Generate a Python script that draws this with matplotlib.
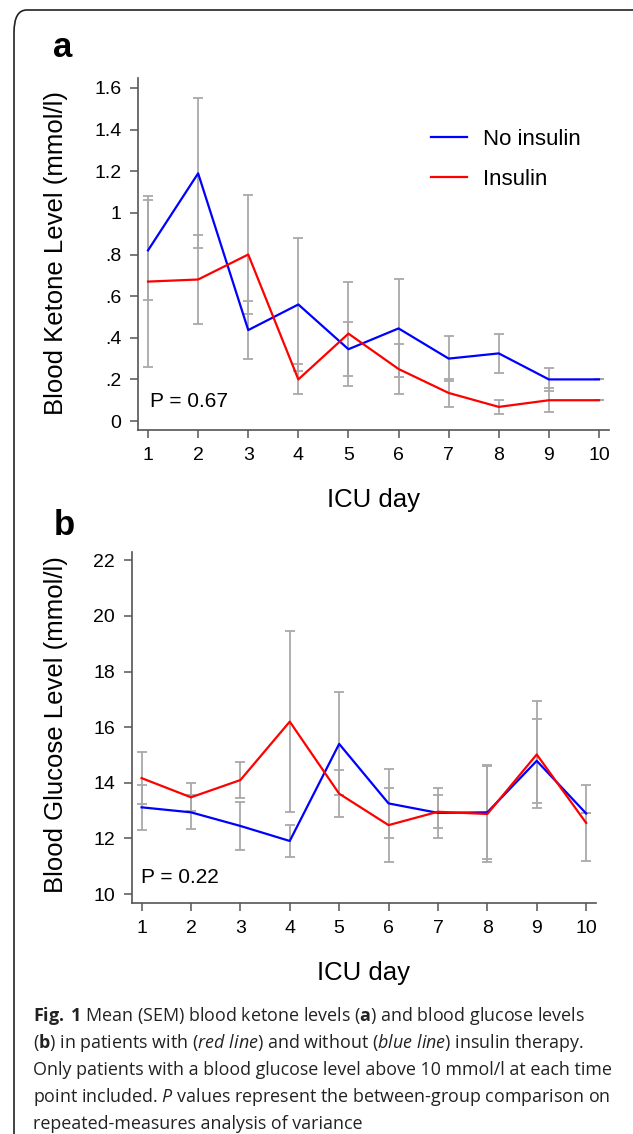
"""
Mean (SEM) blood ketone and glucose levels by ICU day, two panels.
"""
import matplotlib
matplotlib.use("Agg")
import matplotlib.pyplot as plt
from matplotlib.patches import FancyBboxPatch

days = list(range(1, 11))

ketone_no_insulin = [0.82, 1.19, 0.437, 0.56, 0.345, 0.445, 0.30, 0.325, 0.20, 0.20]
ketone_no_insulin_sem = [0.24, 0.36, 0.14, 0.32, 0.13, 0.235, 0.108, 0.094, 0.055, 0.0]
ketone_insulin = [0.67, 0.68, 0.80, 0.20, 0.42, 0.25, 0.135, 0.068, 0.10, 0.10]
ketone_insulin_sem = [0.41, 0.215, 0.287, 0.072, 0.25, 0.118, 0.067, 0.033, 0.057, 0.0]

glucose_no_insulin = [13.12, 12.94, 12.45, 11.91, 15.40, 13.26, 12.92, 12.94, 14.79, 12.90]
glucose_no_insulin_sem = [0.81, 0.61, 0.87, 0.57, 1.85, 1.23, 0.91, 1.69, 1.50, 0.0]
glucose_insulin = [14.17, 13.48, 14.10, 16.20, 13.61, 12.48, 12.96, 12.88, 15.02, 12.56]
glucose_insulin_sem = [0.94, 0.50, 0.64, 3.25, 0.84, 1.32, 0.60, 1.74, 1.93, 1.36]

ketone_ticks = [0, 0.2, 0.4, 0.6, 0.8, 1.0, 1.2, 1.4, 1.6]
ketone_ticklabels = ["0", ".2", ".4", ".6", ".8", "1", "1.2", "1.4", "1.6"]
glucose_ticks = [10, 12, 14, 16, 18, 20, 22]

caption_lines = [
    r"$\mathbf{Fig.\;1}$ Mean (SEM) blood ketone levels ($\mathbf{a}$) and blood glucose levels",
    r"($\mathbf{b}$) in patients with ($\mathit{red\ line}$) and without ($\mathit{blue\ line}$) insulin therapy.",
    r"Only patients with a blood glucose level above 10 mmol/l at each time",
    r"point included. $\mathit{P}$ values represent the between-group comparison on",
    r"repeated-measures analysis of variance",
]

plt.rcParams["font.family"] = ["Liberation Sans", "DejaVu Sans"]
plt.rcParams["mathtext.fontset"] = "custom"
plt.rcParams["mathtext.rm"] = "Open Sans"
plt.rcParams["mathtext.it"] = "Open Sans:italic"
plt.rcParams["mathtext.bf"] = "Open Sans:bold"

W, H = 633, 1134
fig = plt.figure(figsize=(W / 100, H / 100), dpi=100)

# rounded frame round the figure (only left and top edges visible)
frame = FancyBboxPatch((14 / W, -0.1), 1.2, 1.1 - 10 / H, boxstyle="round,pad=0,rounding_size=0.02",
                       transform=fig.transFigure, fill=False, edgecolor="#222222", linewidth=1.2)
fig.patches.append(frame)

SPINE = "#555555"
GRAY = "#a9a9a9"


def style_axis(ax):
    for side in ("top", "right"):
        ax.spines[side].set_visible(False)
    for side in ("left", "bottom"):
        ax.spines[side].set_color(SPINE)
        ax.spines[side].set_linewidth(1.2)
    ax.tick_params(direction="out", length=6, width=1.1, color=SPINE, labelsize=14, pad=6)
    ax.set_xticks(days)
    ax.set_xlim(0.8, 10.2)


def draw_panel(ax, blue, blue_sem, red, red_sem):
    ax.errorbar(days, blue, yerr=blue_sem, fmt="none", ecolor=GRAY, elinewidth=1.3, capsize=3.5, capthick=1.3, zorder=1)
    ax.errorbar(days, red, yerr=red_sem, fmt="none", ecolor=GRAY, elinewidth=1.3, capsize=3.5, capthick=1.3, zorder=1)
    ax.plot(days, blue, color="#0000ff", linewidth=1.6, label="No insulin", zorder=3)
    ax.plot(days, red, color="#ff0000", linewidth=1.6, label="Insulin", zorder=3)


def set_labels(ax, ylabel, ylab_x, ylab_y):
    ax.set_xlabel("ICU day", fontsize=18.5, va="center")
    ax.xaxis.set_label_coords(0.5, -0.199)
    ax.set_ylabel(ylabel, fontsize=18.5, va="center")
    ax.yaxis.set_label_coords(ylab_x, ylab_y)


# panel a
ax1 = fig.add_axes([138 / W, 1 - 430 / H, 471 / W, 352 / H])
draw_panel(ax1, ketone_no_insulin, ketone_no_insulin_sem, ketone_insulin, ketone_insulin_sem)
style_axis(ax1)
ax1.set_ylim(-0.043, 1.648)
ax1.set_yticks(ketone_ticks)
ax1.set_yticklabels(ketone_ticklabels)
set_labels(ax1, "Blood Ketone Level (mmol/l)", (56 - 138) / 471, (430 - 253) / 352)
ax1.text(0.025, 0.08, "P = 0.67", transform=ax1.transAxes, fontsize=15, va="center")
ax1.legend(loc="upper left", bbox_to_anchor=((431 - 138) / 471, (430 - 129) / 352), frameon=False,
           fontsize=16, borderpad=0, borderaxespad=0, handlelength=1.62, handletextpad=0.72,
           labelspacing=0.85)

# panel b
ax2 = fig.add_axes([131.7 / W, 1 - 903 / H, 464.3 / W, 351.3 / H])
draw_panel(ax2, glucose_no_insulin, glucose_no_insulin_sem, glucose_insulin, glucose_insulin_sem)
style_axis(ax2)
ax2.set_ylim(9.68, 22.31)
ax2.set_yticks(glucose_ticks)
set_labels(ax2, "Blood Glucose Level (mmol/l)", (56 - 131.7) / 464.3, (903 - 725) / 351.3)
ax2.text(0.02, 0.074, "P = 0.22", transform=ax2.transAxes, fontsize=15, va="center")

fig.text(53 / W, 1 - 57 / H, "a", fontsize=25, fontweight="bold", va="baseline")
fig.text(54 / W, 1 - 535 / H, "b", fontsize=25, fontweight="bold", va="baseline")

for i, line in enumerate(caption_lines):
    fig.text(33 / W, 1 - (1016 + 27 * i) / H, line, fontsize=12.9, va="center",
             family="Open Sans", color="#222222")

fig.savefig("out.png", dpi=100)
